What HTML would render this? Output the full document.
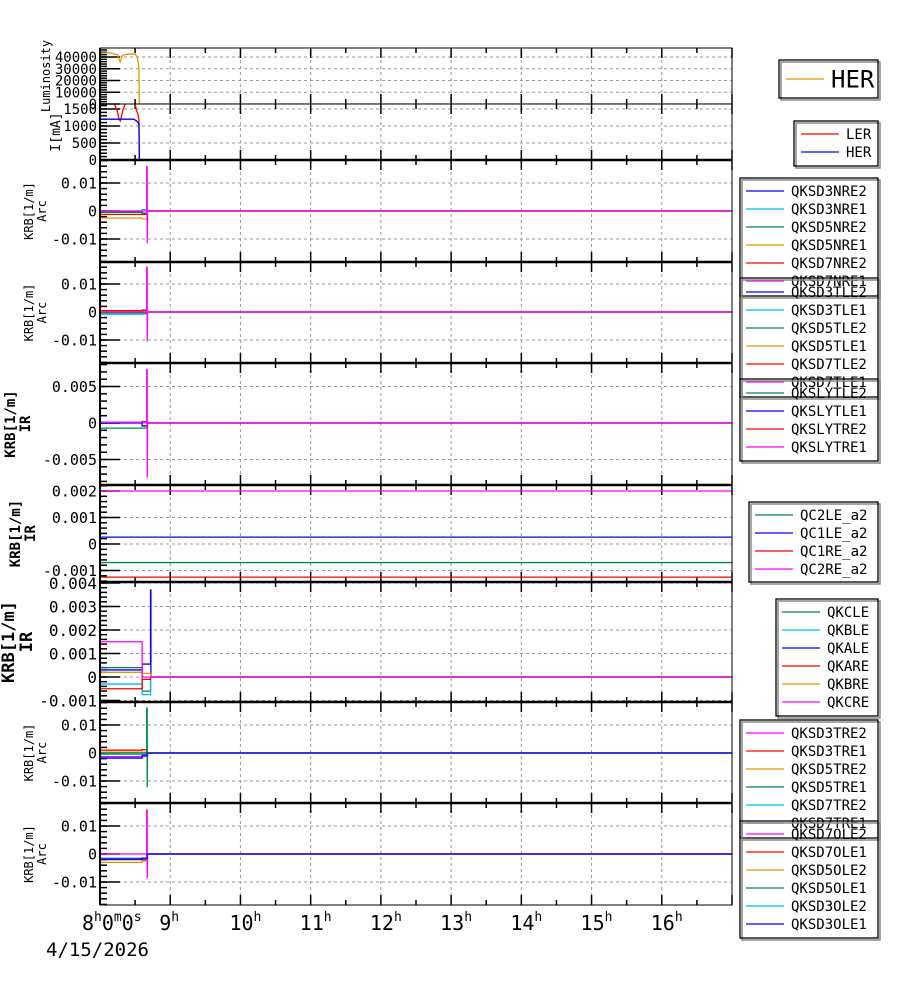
<!DOCTYPE html>
<html><head><meta charset="utf-8"><style>
html,body{margin:0;padding:0;background:#fff;}
svg{display:block;font-family:"DejaVu Sans Mono","Liberation Mono",monospace;}
</style></head><body>
<svg id="chart" width="900" height="984" viewBox="0 0 900 984" xmlns="http://www.w3.org/2000/svg"></svg>
<script>
// ---- data ----
const hourTicks = [8,9,10,11,12,13,14,15,16,17];
const hourLabels = ["8","9","10","11","12","13","14","15","16"];
const dateLabel = "4/15/2026";

const lumTicks = [0,10000,20000,30000,40000];
const curTicks = [0,500,1000,1500];
const arcTicks = [-0.01,0,0.01];
const arcLabels = ["-0.01","0","0.01"];
const ir5Ticks = [-0.005,0,0.005];
const ir5Labels = ["-0.005","0","0.005"];
const ir6Ticks = [-0.001,0,0.001,0.002];
const ir6Labels = ["-0.001","0","0.001","0.002"];
const ir7Ticks = [-0.001,0,0.001,0.002,0.003,0.004];
const ir7Labels = ["-0.001","0","0.001","0.002","0.003","0.004"];

// panel 1: luminosity
const lumT = [8,8.15,8.2,8.25,8.27,8.29,8.32,8.4,8.5,8.53,8.545,8.555,8.56,17];
const lumHER = [43500,43500,42500,42000,38000,36000,41500,42500,42500,40000,35000,30000,0,0];
// panel 2: currents
const curLT = [8,8.2,8.24,8.27,8.29,8.33,8.36,8.5,8.52,8.54,8.555,8.56,17];
const curLER = [1650,1650,1500,1200,1150,1500,1650,1650,1450,1350,1150,0,0];
const curHT = [8,8.48,8.52,8.545,8.555,8.56,17];
const curHER = [1200,1200,1150,1100,1050,0,0];

// step times for magnet panels
const stepT = [8,8.6,8.6,8.67,8.67,17];
const spikeT = [8,8.665,8.665,8.672,8.672,8.677,17];
const stepT7 = [8,8.6,8.6,8.72,8.72,17];
const spikeT7 = [8,8.6,8.6,8.72,8.72,8.725,8.725,17];

// panel 3 (Arc NRE)
const p3blue = [-0.0003,-0.0003,-0.0008,-0.0008,0,0];
const p3cyan = [0,0,0.0005,0.0005,0,0];
const p3green = [-0.0005,-0.0005,-0.0008,-0.0008,0,0];
const p3orange = [-0.0025,-0.0025,-0.0028,-0.0028,0,0];
const p3red = [-0.0012,-0.0012,-0.0012,-0.0012,0,0];
const p3magenta = [0,0,0.0158,0.0158,-0.0115,0,0];
// panel 4 (Arc TLE)
const p4blue = [0.0003,0.0003,0.0006,0.0006,0,0];
const p4cyan = [-0.0008,-0.0008,-0.0007,-0.0007,0,0];
const p4green = [-0.0003,-0.0003,-0.0003,-0.0003,0,0];
const p4orange = [0.0002,0.0002,0.0002,0.0002,0,0];
const p4red = [0.0005,0.0005,0.0007,0.0007,0,0];
const p4magenta = [0,0,0.016,0.016,-0.0105,0,0];
// panel 5 (IR SLY)
const p5green = [-0.0007,-0.0007,-0.0007,-0.0007,0,0];
const p5blue = [0,0,-0.0004,-0.0004,0,0];
const p5red = [0.0001,0.0001,0.0002,0.0002,0,0];
const p5magenta = [0.0001,0.0001,0.0073,0.0073,-0.0075,0,0];
// panel 6 (IR QC a2) constant
const p6T = [8,17];
const p6green = [-0.0007,-0.0007];
const p6blue = [0.00026,0.00026];
const p6red = [-0.00125,-0.00125];
const p6magenta = [0.002,0.002];
// panel 7 (IR QK)
const p7green = [0.0004,0.0004,-0.0006,-0.0006,0,0];
const p7cyan = [-0.0003,-0.0003,-0.00075,-0.00075,0,0];
const p7blue = [0.0003,0.0003,0.00055,0.00055,0.0037,0.0037,0,0];
const p7red = [-0.0005,-0.0005,-0.0001,-0.0001,0,0];
const p7orange = [0.0002,0.0002,0.00015,0.00015,0,0];
const p7magenta = [0.0015,0.0015,0,0,0,0];
// panel 8 (Arc TRE)
const p8magenta = [-0.0013,-0.0013,-0.0013,-0.0013,0,0];
const p8red = [0.001,0.001,0.0012,0.0012,0,0];
const p8orange = [0.0003,0.0003,0.0003,0.0003,0,0];
const p8cyan = [-0.0005,-0.0005,-0.0005,-0.0005,0,0];
const p8blue = [-0.0018,-0.0018,-0.0008,-0.0008,0,0];
const p8green = [0,0,0.016,0.016,-0.0122,0,0];
// panel 9 (Arc OLE)
const p9red = [-0.002,-0.002,-0.0022,-0.0022,0,0];
const p9orange = [-0.003,-0.003,-0.0025,-0.0025,0,0];
const p9green = [-0.0017,-0.0017,-0.0017,-0.0017,0,0];
const p9cyan = [-0.0015,-0.0015,-0.0015,-0.0015,0,0];
const p9magenta = [0,0,0.0157,0.0157,-0.0088,0,0];
const p9blue = [-0.0018,-0.0018,-0.0015,-0.0015,0,0];

// ---- layout ----
const C = {blue:"#0000ff",cyan:"#00bbee",green:"#008844",orange:"#dd9900",red:"#ff0000",magenta:"#ff00ff"};
const X0 = 100, X1 = 732;
const xS = t => X0 + (t - 8) * (X1 - X0) / 9;
const svg = document.getElementById('chart');
const NS = "http://www.w3.org/2000/svg";
function mk(tag, attrs, parent, text){
  const e = document.createElementNS(NS, tag);
  for (const k in attrs) e.setAttribute(k, attrs[k]);
  if (text !== undefined) e.textContent = text;
  (parent || svg).appendChild(e);
  return e;
}

const panels = [
  {name:"luminosity", top:48, bot:104, y0:104, y1:57, v1:40000, ticks:lumTicks, labels:lumTicks.map(String), minor:2000, fs:14, lab:["Luminosity"], lfs:12, tx:50, bold:false,
   series:[[lumT,lumHER,C.orange]]},
  {name:"current", top:104, bot:160, y0:160, y1:109, v1:1500, ticks:curTicks, labels:curTicks.map(String), minor:100, fs:14, lab:["I[mA]"], lfs:13, tx:60, bold:false,
   series:[[curLT,curLER,C.red],[curHT,curHER,C.blue]]},
  {name:"arc-nre", top:160, bot:262, y0:211, y1:183, v1:0.01, ticks:arcTicks, labels:arcLabels, minor:0.002, fs:15, lab:["KRB[1/m]","Arc"], lfs:12, tx:33, bold:false,
   series:[[stepT,p3blue,C.blue],[stepT,p3cyan,C.cyan],[stepT,p3green,C.green],[stepT,p3orange,C.orange],[stepT,p3red,C.red],[spikeT,p3magenta,C.magenta]]},
  {name:"arc-tle", top:262, bot:363, y0:312, y1:284, v1:0.01, ticks:arcTicks, labels:arcLabels, minor:0.002, fs:15, lab:["KRB[1/m]","Arc"], lfs:12, tx:33, bold:false,
   series:[[stepT,p4blue,C.blue],[stepT,p4cyan,C.cyan],[stepT,p4green,C.green],[stepT,p4orange,C.orange],[stepT,p4red,C.red],[spikeT,p4magenta,C.magenta]]},
  {name:"ir-sly", top:363, bot:485, y0:423, y1:386.5, v1:0.005, ticks:ir5Ticks, labels:ir5Labels, minor:0.001, fs:15, lab:["KRB[1/m]","IR"], lfs:14, tx:15, bold:true,
   series:[[stepT,p5green,C.green],[stepT,p5blue,C.blue],[stepT,p5red,C.red],[spikeT,p5magenta,C.magenta]]},
  {name:"ir-qc", top:485, bot:582, y0:544, y1:517.5, v1:0.001, ticks:ir6Ticks, labels:ir6Labels, minor:0.0002, fs:15, lab:["KRB[1/m]","IR"], lfs:14, tx:20, bold:true,
   series:[[p6T,p6green,C.green],[p6T,p6blue,C.blue],[p6T,p6red,C.red],[p6T,p6magenta,C.magenta]]},
  {name:"ir-qk", top:582, bot:702, y0:677, y1:653.5, v1:0.001, ticks:ir7Ticks, labels:ir7Labels, minor:0.0002, fs:16, lab:["KRB[1/m]","IR"], lfs:17, tx:14, bold:true,
   series:[[stepT7,p7green,C.green],[stepT7,p7cyan,C.cyan],[spikeT7,p7blue,C.blue],[stepT7,p7red,C.red],[stepT7,p7orange,C.orange],[stepT7,p7magenta,C.magenta]]},
  {name:"arc-tre", top:702, bot:803, y0:753, y1:725, v1:0.01, ticks:arcTicks, labels:arcLabels, minor:0.002, fs:15, lab:["KRB[1/m]","Arc"], lfs:12, tx:33, bold:false,
   series:[[stepT,p8magenta,C.magenta],[stepT,p8red,C.red],[stepT,p8orange,C.orange],[stepT,p8cyan,C.cyan],[spikeT,p8green,C.green],[stepT,p8blue,C.blue]]},
  {name:"arc-ole", top:803, bot:905, y0:854, y1:826, v1:0.01, ticks:arcTicks, labels:arcLabels, minor:0.002, fs:15, lab:["KRB[1/m]","Arc"], lfs:12, tx:33, bold:false,
   series:[[stepT,p9red,C.red],[stepT,p9orange,C.orange],[stepT,p9green,C.green],[stepT,p9cyan,C.cyan],[spikeT,p9magenta,C.magenta],[stepT,p9blue,C.blue]]},
];

panels.forEach((p, pi) => {
  const yS = v => p.y0 + (p.y1 - p.y0) * v / p.v1;
  const g = mk('g', {});
  
  
  const cp = mk('clipPath', {id:'clip'+pi}, g);
  mk('rect', {x:X0, y:p.top, width:X1-X0, height:p.bot-p.top}, cp);
  hourTicks.slice(1,-1).forEach(h => {
    const l = mk('line', {x1:xS(h), x2:xS(h), y1:p.top, y2:p.bot, stroke:'#999', 'stroke-dasharray':'3,3', 'stroke-width':1}, g);
    
    
  });
  p.ticks.forEach(v => {
    const y = yS(v);
    if (y < p.top || y > p.bot) return;
    const l = mk('line', {x1:X0, x2:X1, y1:y, y2:y, stroke:'#999', 'stroke-dasharray':'3,3', 'stroke-width':1}, g);
    
    
  });
  const lo = (p.bot - p.y0) / (p.y1 - p.y0) * p.v1, hi = (p.top - p.y0) / (p.y1 - p.y0) * p.v1;
  for (let k = Math.ceil(lo / p.minor); k * p.minor <= hi; k++) {
    const y = yS(k * p.minor);
    mk('line', {x1:X0, x2:X0+7, y1:y, y2:y, stroke:'#000', 'stroke-width':1.5}, g);
  }
  p.ticks.forEach((v, i) => {
    const y = yS(v);
    mk('line', {x1:X0, x2:X0+20, y1:y, y2:y, stroke:'#000', 'stroke-width':1.5}, g);
    const t = mk('text', {x:X0-3, y:y + p.fs*0.36, 'text-anchor':'end', 'font-size':p.fs, fill:'#000'}, g, p.labels[i]);
    
    
  });
  for (let h = 8; h <= 17; h += 0.5) {
    const len = (h % 1 === 0) ? 10 : 5;
    mk('line', {x1:xS(h), x2:xS(h), y1:p.bot, y2:p.bot-len, stroke:'#000', 'stroke-width':1.5}, g);
    mk('line', {x1:xS(h), x2:xS(h), y1:p.top, y2:p.top+len, stroke:'#000', 'stroke-width':1.5}, g);
  }
  const sg = mk('g', {'clip-path':'url(#clip'+pi+')'}, g);
  p.series.forEach(s => {
    const [T, V, col] = s;
    const pts = T.map((t, i) => xS(t).toFixed(2) + ',' + yS(V[i]).toFixed(2)).join(' ');
    const pl = mk('polyline', {points:pts, fill:'none', stroke:col, 'stroke-width':1.3}, sg);
    
    
  });
  mk('rect', {x:X0, y:p.top, width:X1-X0, height:p.bot-p.top, fill:'none', stroke:'#000', 'stroke-width':1}, g);
  const cy = (p.top + p.bot) / 2;
  const tt = mk('text', {transform:`translate(${p.tx},${cy}) rotate(-90)`, 'text-anchor':'middle', 'font-size':p.lfs, 'font-weight':p.bold?'bold':'normal', fill:'#000'}, g);
  
  
  p.lab.forEach((s, i) => {
    mk('tspan', {x:0, dy: i === 0 ? 0 : p.lfs + 1}, tt, s);
  });
});
[160,262,363,485,582,702,803].forEach(y => mk('line', {x1:X0, x2:X1, y1:y, y2:y, stroke:'#000', 'stroke-width':2.5}));
mk('line', {x1:X0, x2:X0, y1:48, y2:905, stroke:'#000', 'stroke-width':2});

hourLabels.forEach((h, i) => {
  const x = xS(hourTicks[i]);
  const t = mk('text', {x: i === 0 ? 82 : x - 11, y:930, 'font-size':20, fill:'#000'});
  
  
  mk('tspan', {}, t, h);
  mk('tspan', {dy:-9, 'font-size':13}, t, 'h');
  if (i === 0) {
    mk('tspan', {dy:9}, t, '0');
    mk('tspan', {dy:-9, 'font-size':13}, t, 'm');
    mk('tspan', {dy:9}, t, '0');
    mk('tspan', {dy:-9, 'font-size':13}, t, 's');
  }
});
const dl = mk('text', {x:46, y:956, 'font-size':19, fill:'#000'}, svg, dateLabel);



const legends = [
  {name:'legend-luminosity', x:779, y:60, w:99, h:38, items:[['HER',C.orange]], y0:79, dy:0, lx:786, ll:38, fs:24},
  {name:'legend-current', x:794, y:121, w:84, h:45, items:[['LER',C.red],['HER',C.blue]], y0:134, dy:18, lx:801, ll:38, fs:14},
  {name:'legend-arc-nre', x:740, y:178, w:138, h:118, items:[['QKSD3NRE2',C.blue],['QKSD3NRE1',C.cyan],['QKSD5NRE2',C.green],['QKSD5NRE1',C.orange],['QKSD7NRE2',C.red],['QKSD7NRE1',C.magenta]], y0:191, dy:18, lx:746, ll:38, fs:14},
  {name:'legend-arc-tle', x:740, y:278, w:138, h:119, items:[['QKSD3TLE2',C.blue],['QKSD3TLE1',C.cyan],['QKSD5TLE2',C.green],['QKSD5TLE1',C.orange],['QKSD7TLE2',C.red],['QKSD7TLE1',C.magenta]], y0:292, dy:18, lx:746, ll:38, fs:14},
  {name:'legend-ir-sly', x:740, y:379, w:138, h:82, items:[['QKSLYTLE2',C.green],['QKSLYTLE1',C.blue],['QKSLYTRE2',C.red],['QKSLYTRE1',C.magenta]], y0:393, dy:18, lx:746, ll:38, fs:14},
  {name:'legend-ir-qc', x:749, y:502, w:129, h:80, items:[['QC2LE_a2',C.green],['QC1LE_a2',C.blue],['QC1RE_a2',C.red],['QC2RE_a2',C.magenta]], y0:515, dy:18, lx:755, ll:38, fs:14},
  {name:'legend-ir-qk', x:776, y:599, w:102, h:117, items:[['QKCLE',C.green],['QKBLE',C.cyan],['QKALE',C.blue],['QKARE',C.red],['QKBRE',C.orange],['QKCRE',C.magenta]], y0:612, dy:18, lx:782, ll:38, fs:14},
  {name:'legend-arc-tre', x:740, y:720, w:138, h:118, items:[['QKSD3TRE2',C.magenta],['QKSD3TRE1',C.red],['QKSD5TRE2',C.orange],['QKSD5TRE1',C.green],['QKSD7TRE2',C.cyan],['QKSD7TRE1',C.blue]], y0:733, dy:18, lx:746, ll:38, fs:14},
  {name:'legend-arc-ole', x:740, y:821, w:138, h:117, items:[['QKSD7OLE2',C.magenta],['QKSD7OLE1',C.red],['QKSD5OLE2',C.orange],['QKSD5OLE1',C.green],['QKSD3OLE2',C.cyan],['QKSD3OLE1',C.blue]], y0:834, dy:18, lx:746, ll:38, fs:14},
];
legends.forEach(L => {
  const g = mk('g', {});
  
  
  mk('rect', {x:L.x+2, y:L.y+2, width:L.w, height:L.h, fill:'none', stroke:'#888', 'stroke-width':1.5}, g);
  mk('rect', {x:L.x, y:L.y, width:L.w, height:L.h, fill:'none', stroke:'#000', 'stroke-width':1.3}, g);
  L.items.forEach((it, i) => {
    const y = L.y0 + i * L.dy;
    const e = mk('g', {}, g);
    
    
    mk('line', {x1:L.lx, x2:L.lx+L.ll, y1:y, y2:y, stroke:it[1], 'stroke-width':1.3}, e);
    mk('text', {x:L.lx+L.ll+7, y:y + L.fs*0.36, 'font-size':L.fs, fill:'#000'}, e, it[0]);
  });
});
</script>
</body></html>
